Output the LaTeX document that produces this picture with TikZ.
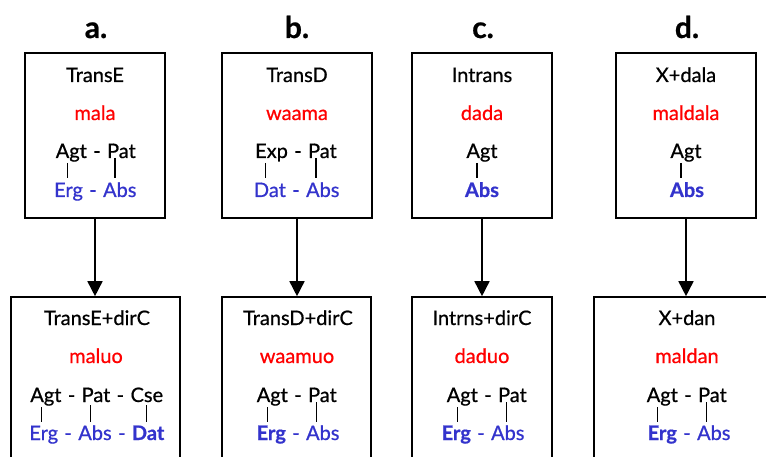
\documentclass[tikz,border=0pt]{standalone}
\usepackage{fontspec}
\setmainfont{Lato}
\newfontfamily\rfont{Lato}[FakeBold=0.7]
\usetikzlibrary{arrows.meta,calc}
\definecolor{casblue}{RGB}{51,51,204}
\begin{document}
\begin{tikzpicture}[x=1pt,y=-1pt,
 box/.style={draw,line width=1.6pt,rectangle,inner sep=0},
 lbl/.style={font=\rfont\bfseries\fontsize{30}{30}\selectfont,anchor=base,inner sep=0},
 txt/.style={font=\rfont\fontsize{20}{24}\selectfont,anchor=base,inner sep=0},
 frm/.style={txt,text=red},
 cas/.style={txt,text=casblue},
 dsh/.style={inner xsep=6pt},
 bf/.style={font=\rfont\bfseries\fontsize{20}{24}\selectfont},
 link/.style={line width=1.2pt},
 arr/.style={line width=1.6pt,-{Triangle[width=15pt,length=15pt]}}]
\useasboundingbox (0,0) rectangle (766,457);
% boxes
\node[box,minimum width=140pt,minimum height=165pt] (A1) at (95,135.5) {};
\node[box,minimum width=150pt,minimum height=165pt] (B1) at (297,135.5) {};
\node[box,minimum width=140pt,minimum height=165pt] (C1) at (482,135.5) {};
\node[box,minimum width=140pt,minimum height=165pt] (D1) at (686,135.5) {};
\node[box,minimum width=169pt,minimum height=190pt] (A2) at (95.5,392) {};
\node[box,minimum width=149pt,minimum height=190pt] (B2) at (296.5,392) {};
\node[box,minimum width=140pt,minimum height=190pt] (C2) at (482,392) {};
\node[box,minimum width=200pt,minimum height=190pt] (D2) at (694,392) {};
% labels
\node[lbl] (la) at (96,38) {a.};
\node[lbl] (lb) at (297,38) {b.};
\node[lbl] (lc) at (483,38) {c.};
\node[lbl] (ld) at (687,38) {d.};
% arrows
\draw[arr] (A1.south) -- (A1.south |- A2.north);
\draw[arr] (B1.south) -- (B1.south |- B2.north);
\draw[arr] (C1.south) -- (C1.south |- C2.north);
\draw[arr] (D1.south) -- (D1.south |- D2.north);
% ---- top a
\node[txt] (A1t) at (95,82) {TransE};
\node[frm] (A1f) at (95,120) {mala};
\node[txt,dsh] (A1d) at (97,158) {-};
\node[txt,anchor=base east] (A1agt) at (A1d.base west) {Agt};
\node[txt,anchor=base west] (A1pat) at (A1d.base east) {Pat};
\node[cas,dsh] (A1cd) at (93,197) {-};
\node[cas,anchor=base east] (A1erg) at (A1cd.base west) {Erg};
\node[cas,anchor=base west] (A1abs) at (A1cd.base east) {Abs};
\draw[link] ($(A1agt.base west)!0.38!(A1agt.base east)+(0,5)$) -- ++(0,15);
\draw[link] ($(A1pat.base west)!0.28!(A1pat.base east)$) -- ++(0,20);
% ---- top b
\node[txt] (B1t) at (297,82) {TransD};
\node[frm] (B1f) at (297,120) {waama};
\node[txt,dsh] (B1d) at (298,158) {-};
\node[txt,anchor=base east] (B1exp) at (B1d.base west) {Exp};
\node[txt,anchor=base west] (B1pat) at (B1d.base east) {Pat};
\node[cas,dsh] (B1cd) at (296,197) {-};
\node[cas,anchor=base east] (B1dat) at (B1cd.base west) {Dat};
\node[cas,anchor=base west] (B1abs) at (B1cd.base east) {Abs};
\draw[link] ($(B1exp.base west)!0.32!(B1exp.base east)+(0,5)$) -- ++(0,15);
\draw[link] ($(B1pat.base west)!0.28!(B1pat.base east)$) -- ++(0,20);
% ---- top c
\node[txt] (C1t) at (482,82) {Intrans};
\node[frm] (C1f) at (482,120) {dada};
\node[txt] (C1agt) at (482,158) {Agt};
\node[cas,bf] (C1abs) at (482,197) {Abs};
\draw[link] ($(C1agt.base west)!0.34!(C1agt.base east)+(0,5)$) -- ++(0,15);
% ---- top d
\node[txt] (D1t) at (686,82) {X+dala};
\node[frm] (D1f) at (686,120) {maldala};
\node[txt] (D1agt) at (686,158) {Agt};
\node[cas,bf] (D1abs) at (687,197) {Abs};
\draw[link] ($(D1agt.base west)!0.34!(D1agt.base east)+(0,5)$) -- ++(0,15);
% ---- bottom a
\node[txt] (A2t) at (97,325) {TransE+dirC};
\node[frm] (A2f) at (96,363) {maluo};
\node[txt] (A2pat) at (96,402) {Pat};
\node[txt,dsh,anchor=base east] (A2d1) at (A2pat.base west) {-};
\node[txt,dsh,anchor=base west] (A2d2) at (A2pat.base east) {-};
\node[txt,anchor=base east] (A2agt) at (A2d1.base west) {Agt};
\node[txt,anchor=base west] (A2cse) at (A2d2.base east) {Cse};
\node[cas] (A2abs) at (95,440) {Abs};
\node[cas,dsh,anchor=base east] (A2c1) at (A2abs.base west) {-};
\node[cas,dsh,anchor=base west] (A2c2) at (A2abs.base east) {-};
\node[cas,anchor=base east] (A2erg) at (A2c1.base west) {Erg};
\node[cas,bf,anchor=base west] (A2dat) at (A2c2.base east) {Dat};
\draw[link] ($(A2agt.base west)!0.36!(A2agt.base east)+(0,5)$) -- ++(0,15);
\draw[link] ($(A2pat.base west)!0.3!(A2pat.base east)+(0,3)$) -- ++(0,17);
\draw[link] ($(A2cse.base west)!0.5!(A2cse.base east)+(0,3)$) -- ++(0,17);
% ---- bottom b
\node[txt] (B2t) at (298,325) {TransD+dirC};
\node[frm] (B2f) at (297,363) {waamuo};
\node[txt,dsh] (B2d) at (298,402) {-};
\node[txt,anchor=base east] (B2agt) at (B2d.base west) {Agt};
\node[txt,anchor=base west] (B2pat) at (B2d.base east) {Pat};
\node[cas,dsh] (B2cd) at (296,440) {-};
\node[cas,bf,anchor=base east] (B2erg) at (B2cd.base west) {Erg};
\node[cas,anchor=base west] (B2abs) at (B2cd.base east) {Abs};
\draw[link] ($(B2agt.base west)!0.34!(B2agt.base east)+(0,5)$) -- ++(0,15);
\draw[link] ($(B2pat.base west)!0.3!(B2pat.base east)$) -- ++(0,20);
% ---- bottom c
\node[txt] (C2t) at (482,325) {Intrns+dirC};
\node[frm] (C2f) at (482,363) {daduo};
\node[txt,dsh] (C2d) at (488,402) {-};
\node[txt,anchor=base east] (C2agt) at (C2d.base west) {Agt};
\node[txt,anchor=base west] (C2pat) at (C2d.base east) {Pat};
\node[cas,dsh] (C2cd) at (481,440) {-};
\node[cas,bf,anchor=base east] (C2erg) at (C2cd.base west) {Erg};
\node[cas,anchor=base west] (C2abs) at (C2cd.base east) {Abs};
\draw[link] ($(C2agt.base west)!0.34!(C2agt.base east)+(0,5)$) -- ++(0,15);
\draw[link] ($(C2pat.base west)!0.3!(C2pat.base east)$) -- ++(0,20);
% ---- bottom d
\node[txt] (D2t) at (687,325) {X+dan};
\node[frm] (D2f) at (687,363) {maldan};
\node[txt,dsh] (D2d) at (688,402) {-};
\node[txt,anchor=base east] (D2agt) at (D2d.base west) {Agt};
\node[txt,anchor=base west] (D2pat) at (D2d.base east) {Pat};
\node[cas,dsh] (D2cd) at (687,440) {-};
\node[cas,bf,anchor=base east] (D2erg) at (D2cd.base west) {Erg};
\node[cas,anchor=base west] (D2abs) at (D2cd.base east) {Abs};
\draw[link] ($(D2agt.base west)!0.34!(D2agt.base east)+(0,5)$) -- ++(0,15);
\draw[link] ($(D2pat.base west)!0.3!(D2pat.base east)$) -- ++(0,20);
\end{tikzpicture}
\end{document}
